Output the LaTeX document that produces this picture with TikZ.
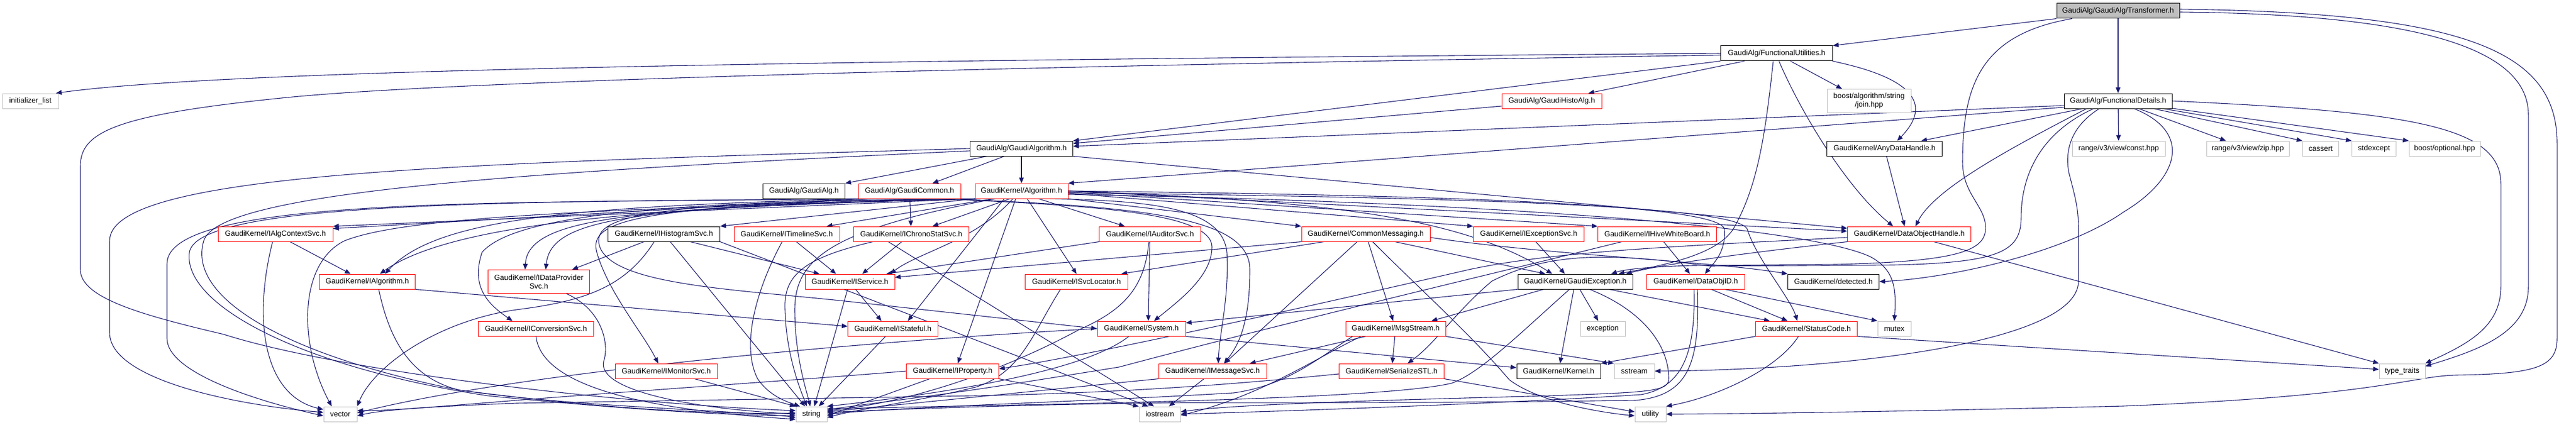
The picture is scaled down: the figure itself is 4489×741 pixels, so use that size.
\documentclass[tikz,border=0pt]{standalone}
\usepackage{fontspec}
\setmainfont{Liberation Sans}
\usetikzlibrary{arrows.meta}
\definecolor{edgeblue}{HTML}{191970}
\definecolor{nodered}{HTML}{FF0000}
\definecolor{nodegray}{HTML}{BFBFBF}
\definecolor{rootgray}{HTML}{BFBFBF}
\pgfdeclarelayer{bg}
\pgfsetlayers{bg,main}
\newcommand\dxfont{\fontsize{13}{15}\selectfont}
\begin{document}
\begin{tikzpicture}[x=1pt,y=-1pt,
 nb/.style={draw, line width=1pt, minimum height=26pt, inner sep=0pt, fill=white, font=\dxfont, align=center, text=black},
 nr/.style={nb, draw=nodered},
 nk/.style={nb, draw=black},
 ng/.style={nb, draw=nodegray},
 nroot/.style={nb, draw=black, fill=rootgray},
 edg/.style={draw=edgeblue, line width=1.1pt, -{Triangle[length=10pt,width=8pt]}}]
\useasboundingbox (0,0) rectangle (4489,741);
% ---------- nodes ----------
\node[nroot, minimum width=214pt] (T) at (3691,19) {GaudiAlg/GaudiAlg/Transformer.h};
\node[nk, minimum width=195pt] (FU) at (3096,93) {GaudiAlg/FunctionalUtilities.h};
\node[ng, minimum width=146pt, minimum height=41pt] (join) at (3257,176) {boost/algorithm/string\\/join.hpp};
\node[nk, minimum width=201pt] (ADH) at (3284,259) {GaudiKernel/AnyDataHandle.h};
\node[nk, minimum width=188pt] (FD) at (3691,176) {GaudiAlg/FunctionalDetails.h};
\node[ng, minimum width=162pt] (cnst) at (3692,259) {range/v3/view/const.hpp};
\node[ng, minimum width=144pt] (zip) at (3917,259) {range/v3/view/zip.hpp};
\node[ng, minimum width=63pt] (cassert) at (4044,259) {cassert};
\node[ng, minimum width=77pt] (stdexc) at (4137,259) {stdexcept};
\node[ng, minimum width=124pt] (bopt) at (4260,259) {boost/optional.hpp};
\node[ng, minimum width=98pt] (initl) at (53,176) {initializer\_list};
\node[nk, minimum width=179pt] (GAlgm) at (1780,259) {GaudiAlg/GaudiAlgorithm.h};
\node[nr, minimum width=174pt] (GHisto) at (2704,176) {GaudiAlg/GaudiHistoAlg.h};
\node[nk, minimum width=143pt] (GAlg) at (1401,333) {GaudiAlg/GaudiAlg.h};
\node[nr, minimum width=178pt] (GCom) at (1585,333) {GaudiAlg/GaudiCommon.h};
\node[nr, minimum width=162pt] (Alg) at (1780,333) {GaudiKernel/Algorithm.h};
\node[nr, minimum width=215pt] (DOH) at (3327,408) {GaudiKernel/DataObjectHandle.h};
\node[nr, minimum width=200pt] (IACS) at (480,408) {GaudiKernel/IAlgContextSvc.h};
\node[nk, minimum width=195pt] (IHS) at (1157,408) {GaudiKernel/IHistogramSvc.h};
\node[nr, minimum width=184pt] (ITS) at (1371,408) {GaudiKernel/ITimelineSvc.h};
\node[nr, minimum width=201pt] (ICSS) at (1588,408) {GaudiKernel/IChronoStatSvc.h};
\node[nr, minimum width=177pt] (IAS) at (2004,408) {GaudiKernel/IAuditorSvc.h};
\node[nr, minimum width=224pt] (CM) at (2380,408) {GaudiKernel/CommonMessaging.h};
\node[nr, minimum width=193pt] (IES) at (2664,408) {GaudiKernel/IExceptionSvc.h};
\node[nr, minimum width=207pt] (IHWB) at (2888,408) {GaudiKernel/IHiveWhiteBoard.h};
\node[nr, minimum width=167pt] (IAlgo) at (640,491) {GaudiKernel/IAlgorithm.h};
\node[nr, minimum width=177pt, minimum height=41pt] (IDPS) at (939,491) {GaudiKernel/IDataProvider\\Svc.h};
\node[nr, minimum width=156pt] (ISrv) at (1481,491) {GaudiKernel/IService.h};
\node[nr, minimum width=179pt] (ISL) at (1876,491) {GaudiKernel/ISvcLocator.h};
\node[nk, minimum width=200pt] (GExc) at (2745,491) {GaudiKernel/GaudiException.h};
\node[nr, minimum width=171pt] (DOID) at (2955,491) {GaudiKernel/DataObjID.h};
\node[nk, minimum width=159pt] (det) at (3195,491) {GaudiKernel/detected.h};
\node[nr, minimum width=201pt] (ICS) at (934,573) {GaudiKernel/IConversionSvc.h};
\node[nr, minimum width=157pt] (IStat) at (1556,573) {GaudiKernel/IStateful.h};
\node[nr, minimum width=154pt] (Sys) at (1989,573) {GaudiKernel/System.h};
\node[nr, minimum width=174pt] (MsgS) at (2432,573) {GaudiKernel/MsgStream.h};
\node[ng, minimum width=78pt] (exc) at (2793,573) {exception};
\node[nr, minimum width=177pt] (SC) at (3148,573) {GaudiKernel/StatusCode.h};
\node[ng, minimum width=58pt] (mutex) at (3301,573) {mutex};
\node[nr, minimum width=178pt] (IMon) at (1161,647) {GaudiKernel/IMonitorSvc.h};
\node[nr, minimum width=161pt] (IProp) at (1660,647) {GaudiKernel/IProperty.h};
\node[nr, minimum width=188pt] (IMS) at (2113,647) {GaudiKernel/IMessageSvc.h};
\node[nr, minimum width=183pt] (SSTL) at (2425,647) {GaudiKernel/SerializeSTL.h};
\node[nk, minimum width=146pt] (Kern) at (2716,647) {GaudiKernel/Kernel.h};
\node[ng, minimum width=70pt] (sstr) at (2848,647) {sstream};
\node[ng, minimum width=80pt] (tt) at (4186,647) {type\_traits};
\node[ng, minimum width=58pt] (vec) at (593,722) {vector};
\node[ng, minimum width=54pt] (str) at (1414,722) {string};
\node[ng, minimum width=72pt] (ios) at (2021,722) {iostream};
\node[ng, minimum width=54pt] (util) at (2876,722) {utility};
% ---------- edges ----------
\begin{pgfonlayer}{bg}
\fill[white] (0,0) rectangle (4489,741);
% Transformer
\draw[edg] (T.south west) -- (FU.north east);
\draw[edg] (T) -- (FD);
\draw[edg] ([xshift=-80pt]T.south) .. controls (3450,60) and (3420,150) .. (3420,283) .. controls (3420,340) and (3462,360) .. (3460,400) .. controls (3458,440) and (3400,456) .. (3200,461) -- (2950,463) .. controls (2870,465) and (2830,470) .. ([xshift=-38pt]GExc.north east);
\draw[edg] ([yshift=-2pt]T.east) .. controls (4200,25) and (4406,80) .. (4406,200) -- (4406,500) .. controls (4406,580) and (4320,610) .. ([yshift=-5pt]tt.north east);
\draw[edg] ([yshift=3pt]T.east) .. controls (4300,22) and (4456,90) .. (4456,250) -- (4456,590) .. controls (4456,640) and (4420,652) .. (4280,654) .. controls (4200,656) and (4150,690) .. (3700,708) .. controls (3300,718) and (3000,722) .. (util.east);
% FunctionalUtilities
\draw[edg] (FU.west) .. controls (1500,105) and (400,120) .. ([xshift=-5pt]initl.north east);
\draw[edg] ([yshift=-3pt]FU.west) .. controls (1800,115) and (800,140) .. (500,170) .. controls (200,200) and (140,230) .. (140,290) -- (140,470) .. controls (140,520) and (250,550) .. (390,583) .. controls (600,650) and (1100,705) .. ([yshift=6pt]str.west);
\draw[edg] ([xshift=24pt]FU.south) -- ([xshift=-47pt]join.north);
\draw[edg] ([xshift=97pt]FU.south) .. controls (3330,135) and (3370,180) .. ([xshift=22pt]ADH.north);
\draw[edg] ([xshift=-56pt]FU.south) -- ([xshift=64pt]GHisto.north);
\draw[edg] (FU.south west) -- (GAlgm.north east);
\draw[edg] ([xshift=4pt]FU.south) .. controls (3140,200) and (3220,330) .. ([xshift=-28pt]DOH.north);
\draw[edg] ([xshift=-6pt]FU.south) .. controls (3075,250) and (3060,330) .. (3020,400) .. controls (2990,445) and (2900,462) .. ([xshift=-25pt]GExc.north east);
% FunctionalDetails
\draw[edg] ([xshift=-62pt]FD.south) -- ([xshift=64pt]ADH.north);
\draw[edg] (FD) -- (cnst);
\draw[edg] (FD) -- ([xshift=-38pt]zip.north);
\draw[edg] (FD) -- (cassert.north west);
\draw[edg] (FD) -- (stdexc.north west);
\draw[edg] (FD) -- (bopt.north west);
\draw[edg] ([yshift=-8pt]FD.west) -- ([yshift=4pt]GAlgm.east);
\draw[edg] ([yshift=-11pt]FD.west) -- (Alg.north east);
\draw[edg] ([xshift=-55pt]FD.south) .. controls (3500,260) and (3370,330) .. ([xshift=11pt]DOH.north);
\draw[edg] ([xshift=-43pt]FD.south) .. controls (3560,230) and (3522,300) .. (3522,380) .. controls (3522,440) and (3480,458) .. (3300,462) -- (2980,464) .. controls (2800,440) and (2700,440) .. (2600,490) .. controls (2540,540) and (2500,600) .. ([xshift=28pt]SSTL.north);
\draw[edg] ([xshift=28pt]FD.south) .. controls (3820,230) and (3800,310) .. (3700,370) .. controls (3600,440) and (3400,485) .. (det.east);
\draw[edg] ([xshift=-33pt]FD.south) .. controls (3610,220) and (3598,260) .. (3605,300) .. controls (3615,340) and (3622,360) .. (3622,400) -- (3622,490) .. controls (3622,600) and (3200,645) .. (sstr.east);
\draw[edg] (FD.east) .. controls (4200,195) and (4358,220) .. (4358,320) -- (4358,500) .. controls (4358,570) and (4300,600) .. (tt.north east);
% AnyDataHandle, GaudiHistoAlg
\draw[edg] (ADH) -- ([xshift=-8pt]DOH.north);
\draw[edg] ([yshift=-9pt]GHisto.west) -- ([yshift=9pt]GAlgm.east);
% GaudiAlgorithm
\draw[edg] ([xshift=-60pt]GAlgm.south) -- (GAlg.north east);
\draw[edg] ([xshift=-30pt]GAlgm.south) -- ([xshift=40pt]GCom.north);
\draw[edg] (GAlgm) -- (Alg);
\draw[edg] (GAlgm.south east) -- ([yshift=10pt]DOH.west);
\draw[edg] (GAlgm.west) .. controls (800,285) and (191,300) .. (191,420) -- (191,580) .. controls (191,660) and (400,705) .. ([yshift=3pt]vec.west);
\draw[edg] ([yshift=-4pt]GAlgm.west) .. controls (900,300) and (380,335) .. (355,420) .. controls (325,520) and (500,620) .. (800,680) .. controls (1100,720) and (1300,722) .. ([yshift=2pt]str.west);
% GaudiCommon
\draw[edg] (GCom) -- (ICSS);
\draw[edg] (GCom.south west) -- ([yshift=-4pt]IACS.north east);
\draw[edg] ([xshift=-70pt]GCom.south) .. controls (1100,370) and (920,380) .. ([xshift=-24pt]IDPS.north);
\draw[edg] ([xshift=-80pt]GCom.south) .. controls (1000,360) and (760,380) .. ([xshift=31pt]IAlgo.north);
\draw[edg] ([xshift=-85pt]GCom.south) .. controls (900,355) and (291,340) .. (291,460) -- (291,590) .. controls (291,650) and (450,700) .. ([yshift=-3pt]vec.west);
\draw[edg] ([xshift=-75pt]GCom.south) .. controls (900,352) and (345,350) .. (330,440) .. controls (318,530) and (520,640) .. (850,690) .. controls (1150,720) and (1300,724) .. ([yshift=-3pt]str.west);
\draw[edg] ([xshift=60pt]GCom.south) .. controls (2000,360) and (2178,380) .. (2178,470) .. controls (2178,560) and (2160,600) .. ([xshift=20pt]IMS.north);
\draw[edg] ([xshift=50pt]GCom.south) .. controls (1900,358) and (2110,370) .. (2112,430) .. controls (2112,480) and (2060,520) .. ([xshift=22pt]Sys.north);
% Algorithm
\draw[edg] (Alg.south west) -- (IACS.north east);
\draw[edg] (Alg.south west) -- (IHS.north east);
\draw[edg] ([xshift=-50pt]Alg.south) -- ([xshift=-23pt]ITS.north east);
\draw[edg] ([xshift=-20pt]Alg.south) -- ([xshift=37pt]ICSS.north);
\draw[edg] ([xshift=30pt]Alg.south) -- ([xshift=-44pt]IAS.north);
\draw[edg] (Alg.south east) -- (CM.north west);
\draw[edg] ([yshift=-4pt]Alg.east) -- (IES.north west);
\draw[edg] ([yshift=-2pt]Alg.east) -- (IHWB.north west);
\draw[edg] (Alg.east) -- ([yshift=5pt]DOH.west);
\draw[edg] (Alg.south west) .. controls (1200,360) and (800,380) .. ([xshift=22pt]IAlgo.north);
\draw[edg] ([xshift=-70pt]Alg.south) .. controls (1100,360) and (960,380) .. ([xshift=12pt]IDPS.north);
\draw[edg] ([xshift=-15pt]Alg.south) .. controls (1700,420) and (1600,440) .. ([xshift=-8pt]ISrv.north east);
\draw[edg] ([xshift=10pt]Alg.south) -- (ISL.north);
\draw[edg] (Alg.east) .. controls (2300,350) and (2540,375) .. ([xshift=-40pt]GExc.north);
\draw[edg] (Alg.east) .. controls (2500,340) and (3000,355) .. (3005,400) .. controls (3008,440) and (2985,460) .. ([xshift=-70pt]DOID.north east);
\draw[edg] ([yshift=-3pt]Alg.east) .. controls (2600,345) and (3030,360) .. (3045,400) .. controls (3060,450) and (3120,520) .. ([xshift=-16pt]SC.north);
\draw[edg] ([yshift=-6pt]Alg.east) .. controls (2600,352) and (3150,395) .. (3260,448) .. controls (3300,470) and (3305,500) .. (mutex.north);
\draw[edg] ([xshift=-70pt]Alg.south) .. controls (1200,350) and (900,370) .. (840,440) .. controls (820,500) and (850,530) .. ([xshift=-41pt]ICS.north);
\draw[edg] ([xshift=-30pt]Alg.south) -- ([xshift=26pt]IStat.north);
\draw[edg] ([xshift=-75pt]Alg.south) .. controls (1100,350) and (1030,380) .. (1045,430) .. controls (1070,500) and (1300,505) .. (1500,528) -- (Sys.west);
\draw[edg] ([xshift=-78pt]Alg.south) .. controls (1100,355) and (1025,385) .. (1040,440) .. controls (1060,510) and (1120,580) .. ([xshift=-14pt]IMon.north);
\draw[edg] ([xshift=-10pt]Alg.south) -- ([xshift=9pt]IProp.north);
\draw[edg] ([xshift=50pt]Alg.south) .. controls (2000,350) and (2130,360) .. (2138,440) .. controls (2142,520) and (2125,580) .. ([xshift=10pt]IMS.north);
\draw[edg] ([xshift=-80pt]Alg.south) .. controls (1000,365) and (700,380) .. (600,420) .. controls (520,460) and (520,600) .. ([xshift=-15pt]vec.north);
\draw[edg] ([xshift=-45pt]Alg.south) .. controls (1450,400) and (1385,450) .. (1385,540) .. controls (1385,620) and (1405,680) .. ([xshift=-2pt]str.north);
% IAlgContextSvc
\draw[edg] (IACS) -- ([xshift=-29pt]IAlgo.north);
\draw[edg] ([xshift=-5pt]IACS.south) .. controls (440,560) and (460,690) .. ([yshift=8pt]vec.west);
% IHistogramSvc
\draw[edg] (IHS) -- ([xshift=58pt]IDPS.north);
\draw[edg] ([xshift=46pt]IHS.south) -- ([xshift=-53pt]ISrv.north);
\draw[edg] (IHS) -- (str);
\draw[edg] ([xshift=-17pt]IHS.south) .. controls (1090,500) and (1020,525) .. (900,540) .. controls (760,560) and (650,640) .. (vec.north east);
\draw[edg] (IHS.south east) -- ([xshift=-20pt]ios.north);
% ITimelineSvc
\draw[edg] (ITS) -- ([xshift=-24pt]ISrv.north);
\draw[edg] ([xshift=-8pt]ITS.south) .. controls (1320,500) and (1290,600) .. (1320,660) .. controls (1340,690) and (1370,700) .. ([xshift=-20pt]str.north);
% IChronoStatSvc
\draw[edg] (ICSS) -- ([xshift=-57pt]ISrv.north east);
\draw[edg] ([xshift=-67pt]ICSS.south) .. controls (1400,450) and (1365,480) .. (1368,540) .. controls (1370,620) and (1395,680) .. ([xshift=-8pt]str.north);
\draw[edg] ([xshift=-40pt]ICSS.south) -- ([xshift=-10pt]ios.north);
% IAuditorSvc
\draw[edg] (IAS.south west) -- ([xshift=-15pt]ISrv.north east);
\draw[edg] (IAS) -- ([xshift=12pt]Sys.north);
\draw[edg] ([xshift=-2pt]IAS.south) .. controls (1995,500) and (1960,540) .. (1880,575) .. controls (1760,640) and (1600,700) .. ([yshift=6pt]str.east);
% CommonMessaging
\draw[edg] (CM.south west) -- ([yshift=-6pt]ISrv.north east);
\draw[edg] ([xshift=-73pt]CM.south) -- ([xshift=-12pt]ISL.north east);
\draw[edg] ([xshift=-15pt]CM.south) -- ([xshift=21pt]IMS.north);
\draw[edg] (CM) -- (MsgS);
\draw[edg] ([xshift=12pt]CM.south) .. controls (2470,500) and (2560,580) .. (2630,662) .. controls (2680,700) and (2780,718) .. ([yshift=-3pt]util.west);
\draw[edg] ([xshift=51pt]CM.south) -- ([xshift=-52pt]GExc.north);
\draw[edg] ([yshift=-6pt]CM.east) .. controls (2700,445) and (2980,455) .. (det.north west);
% IExceptionSvc, IHiveWhiteBoard
\draw[edg] (IES) -- ([xshift=-18pt]GExc.north);
\draw[edg] (IHWB) -- ([xshift=-10pt]DOID.north);
\draw[edg] ([xshift=-62pt]IHWB.south) .. controls (2550,490) and (2250,560) .. (1950,640) .. controls (1700,680) .. ([yshift=8pt]str.east);
% DataObjID
\draw[edg] ([xshift=27pt]DOID.south) -- ([xshift=-33pt]SC.north);
\draw[edg] ([xshift=51pt]DOID.south) -- (mutex.north west);
\draw[edg] ([xshift=-3pt]DOID.south) .. controls (2955,620) and (2930,675) .. (2860,688) .. controls (2600,705) and (2200,718) .. (ios.east);
\draw[edg] ([xshift=3pt]DOID.south) .. controls (2962,630) and (2945,690) .. (2850,698) .. controls (2500,703) and (2200,702) .. (2060,702) .. controls (1800,705) and (1600,712) .. ([yshift=3pt]str.east);
% GaudiException
\draw[edg] (GExc.south west) -- ([yshift=10pt]Sys.east);
\draw[edg] ([xshift=-55pt]GExc.south) -- ([xshift=-25pt]MsgS.north east);
\draw[edg] (GExc) -- (Kern);
\draw[edg] (GExc) -- (exc);
\draw[edg] ([xshift=59pt]GExc.south) -- ([xshift=-64pt]SC.north);
\draw[edg] ([xshift=-10pt]GExc.south) .. controls (2650,580) and (2580,650) .. (2530,668) .. controls (2400,700) and (1700,706) .. ([yshift=9pt]str.east);
\draw[edg] ([xshift=25pt]GExc.south) .. controls (2860,540) and (2908,600) .. (2908,660) .. controls (2908,682) and (2880,684) .. (2700,690) .. controls (2400,698) and (2150,705) .. ([yshift=4pt]ios.east);
% MsgStream
\draw[edg] ([xshift=-52pt]MsgS.south) -- ([xshift=65pt]IMS.north);
\draw[edg] (MsgS) -- (SSTL);
\draw[edg] (MsgS.south east) -- (sstr.north west);
\draw[edg] ([xshift=-75pt]MsgS.south) .. controls (2290,630) and (2240,672) .. (2150,685) .. controls (1900,700) and (1600,708) .. (str.east);
\draw[edg] ([xshift=-60pt]MsgS.south) .. controls (2300,620) and (2200,690) .. ([yshift=-2pt]ios.east);
% StatusCode
\draw[edg] (SC.south west) -- (Kern.north east);
\draw[edg] (SC.south east) -- ([yshift=3pt]tt.west);
\draw[edg] ([xshift=-14pt]SC.south) .. controls (3100,640) and (3000,690) .. (util.north east);
% SerializeSTL
\draw[edg] ([yshift=-5pt]SSTL.west) .. controls (2200,665) and (2000,684) .. (1700,690) -- (900,703) .. controls (720,710) and (660,716) .. ([yshift=-3pt]vec.east);
\draw[edg] (SSTL.south east) -- ([yshift=4pt]util.west);
% System
\draw[edg] (Sys.south east) -- ([yshift=6pt]Kern.west);
\draw[edg] ([xshift=-22pt]Sys.south) .. controls (1900,640) and (1700,680) .. (str.north east);
\draw[edg] (Sys.west) .. controls (1500,595) and (900,650) .. ([yshift=2pt]vec.east);
% interfaces to string etc.
\draw[edg] (IStat) -- (str);
\draw[edg] ([xshift=10pt]ISrv.south) -- ([xshift=-20pt]IStat.north);
\draw[edg] ([xshift=-4pt]ISrv.south) -- ([xshift=5pt]str.north);
\draw[edg] ([xshift=-28pt]ISL.south) .. controls (1800,580) and (1780,650) .. (1700,675) .. controls (1600,700) and (1500,712) .. ([yshift=-6pt]str.east);
\draw[edg] (IAlgo.south east) -- ([yshift=4pt]IStat.west);
\draw[edg] ([xshift=20pt]IAlgo.south) .. controls (680,600) and (720,660) .. (800,680) .. controls (1000,710) and (1300,716) .. ([yshift=-6pt]str.west);
\draw[edg] ([xshift=48pt]IDPS.south) .. controls (1050,540) and (1062,600) .. (1052,630) .. controls (1040,680) and (1200,712) .. (str.west);
\draw[edg] (ICS.south) .. controls (945,680) and (1150,716) .. ([yshift=-9pt]str.west);
\draw[edg] (IMon) -- (str.north west);
% IProperty
\draw[edg] ([xshift=-40pt]IProp.south) -- ([yshift=-3pt]str.east);
\draw[edg] (IProp.south east) -- (ios.north west);
\draw[edg] (IProp.west) .. controls (1400,662) and (1100,682) .. (900,698) .. controls (750,710) and (680,716) .. ([yshift=6pt]vec.east);
% IMessageSvc
\draw[edg] ([xshift=-15pt]IMS.south) -- ([xshift=16pt]ios.north);
\draw[edg] (IMS.south west) -- ([yshift=4pt]str.east);
% DataObjectHandle
\draw[edg] (DOH.south west) .. controls (3050,440) and (2900,460) .. ([xshift=-12pt]GExc.north east);
\draw[edg] ([yshift=-6pt]DOH.west) .. controls (2900,430) and (2700,440) .. (2560,470) .. controls (2300,530) and (1900,620) .. ([yshift=4pt]IProp.east);
\draw[edg] ([xshift=43pt]DOH.south) -- (tt.north west);
\end{pgfonlayer}
\end{tikzpicture}
\end{document}
